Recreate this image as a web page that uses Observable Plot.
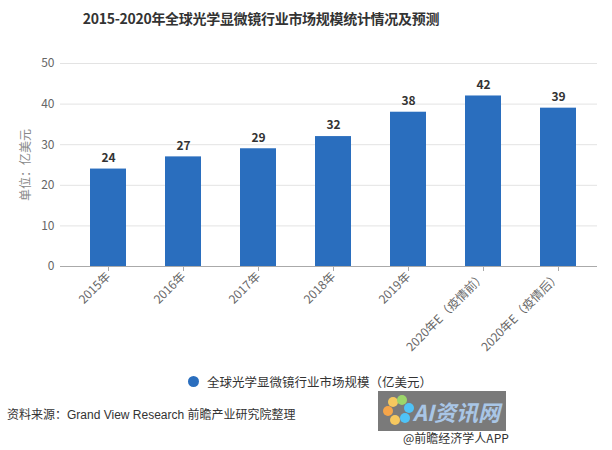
<!DOCTYPE html>
<html><head><meta charset="utf-8">
<script src="https://cdn.jsdelivr.net/npm/d3@7"></script>
<script src="https://cdn.jsdelivr.net/npm/@observablehq/plot@0.6"></script>
<style>
body{margin:0;background:#fff;font-family:"Noto Sans CJK SC","Noto Sans",sans-serif;}
#wrap{position:relative;width:612px;height:450px;overflow:hidden;}
#title{position:absolute;left:0;width:612px;top:8px;text-align:center;font-size:14px;font-weight:bold;color:#333;padding-right:90px;box-sizing:border-box;letter-spacing:-0.3px}
#chart{position:absolute;left:0;top:40px;}
#legend{position:absolute;left:188px;top:372px;font-size:12.5px;color:#333;display:flex;align-items:center;}
#legend span.dot{display:inline-block;width:11px;height:11px;border-radius:50%;background:#2a6ebe;margin-right:8px;}
#source{position:absolute;left:7px;top:405px;font-size:12px;color:#333;font-family:"Liberation Sans","Noto Sans CJK SC",sans-serif;}
#logo{position:absolute;left:378px;top:391px;width:128px;height:40px;background:#7a7a7a;color:#a9c6e6;font-size:22px;font-weight:bold;font-style:italic;line-height:40px;text-align:right;padding-right:6px;box-sizing:border-box;}
#logo i{position:absolute;width:10px;height:10px;border-radius:50%;}
#app{position:absolute;left:403px;top:429px;font-size:12px;color:#333;}
</style></head>
<body><div id="wrap">
<div id="title">2015-2020年全球光学显微镜行业市场规模统计情况及预测</div>
<div id="chart"></div>
<div id="legend"><span class="dot"></span>全球光学显微镜行业市场规模（亿美元）</div>
<div id="source">资料来源：Grand View Research 前瞻产业研究院整理</div>
<div id="logo"><i style="left:10px;top:6px;background:#f6c85f"></i><i style="left:19px;top:4px;background:#9cd66a"></i><i style="left:26px;top:12px;background:#4fc3f7"></i><i style="left:22px;top:22px;background:#4fc3f7"></i><i style="left:12px;top:24px;background:#f6c85f"></i><i style="left:5px;top:15px;background:#f5a54a"></i>AI资讯网</div>
<div id="app">@前瞻经济学人APP</div>
</div>
<script>
const categories = ["2015年","2016年","2017年","2018年","2019年","2020年E（疫情前）","2020年E（疫情后）"];
const values = [24, 27, 29, 32, 38, 42, 39];
const yTicks = [0, 10, 20, 30, 40, 50];
const yLabel = "单位：亿美元";
const data = categories.map((c, i) => ({cat: c, value: values[i]}));

const chart = Plot.plot({
  width: 612, height: 330,
  marginTop: 23, marginBottom: 104, marginLeft: 70.5, marginRight: 16.5,
  style: {fontFamily: "'Noto Sans CJK SC','Noto Sans',sans-serif", background: "transparent"},
  x: {domain: categories, paddingInner: 0.52, paddingOuter: 0.26, label: null},
  y: {domain: [0, 50], label: null},
  marks: [
    Plot.ruleY(yTicks.slice(1), {stroke: "#e3e3e3", insetLeft: -10.5, insetRight: -1.5}),
    Plot.axisY({ticks: yTicks, tickSize: 0, tickPadding: 16.5, fontSize: 12, fill: "#666", label: null}),
    Plot.barY(data, {x: "cat", y: "value", fill: "#2a6ebe"}),
    Plot.ruleY([0], {stroke: "#aaa", insetLeft: -10.5, insetRight: -1.5}),
    Plot.text(data, {x: "cat", y: "value", text: d => String(d.value), dy: -11, fontWeight: "bold", fontSize: 12, fill: "#333"}),
    Plot.axisX({tickRotate: -45, tickSize: 5, tickPadding: 3, stroke: "#aaa", fill: "#666", fontSize: 12, label: null}),
    Plot.text([yLabel], {frameAnchor: "left", textAnchor: "middle", dx: -45, dy: 0, rotate: -90, fontSize: 12, fill: "#888", text: d => d})
  ]
});
document.getElementById("chart").appendChild(chart);
</script>
</body></html>
